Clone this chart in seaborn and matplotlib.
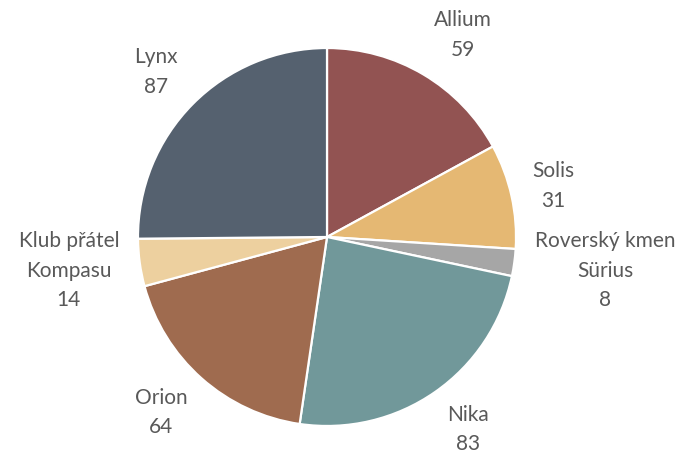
import numpy as np
import matplotlib
matplotlib.use("Agg")
import matplotlib.pyplot as plt
import seaborn as sns

labels = ["Allium", "Solis", "Roverský kmen\nSürius", "Nika", "Orion", "Klub přátel\nKompasu", "Lynx"]
values = [59, 31, 8, 83, 64, 14, 87]
colors = ["#925352", "#E5B873", "#A6A6A6", "#71989A", "#9F6B4F", "#EDD09F", "#55616F"]

sns.set_theme(style="white")
plt.rcParams['font.family'] = ['Lato', 'DejaVu Sans']

fig = plt.figure(figsize=(6.92, 4.53), dpi=100)
ax = fig.add_axes([0, 0, 1, 1])

wedges, _ = ax.pie(values, colors=colors, startangle=90, counterclock=False,
                   radius=1.0, wedgeprops=dict(edgecolor="white", linewidth=1.6))

ax.set_xlim(-1.730, 1.931)
ax.set_ylim(-1.143, 1.254)
ax.set_aspect("auto")
ax.axis("off")

# excel-like outside labels: anchor on a ring, push the box outward by half its size
ring = 1.11
texts = []
for w, lab, val in zip(wedges, labels, values):
    mid = np.deg2rad((w.theta1 + w.theta2) / 2)
    t = ax.text(ring * np.cos(mid), ring * np.sin(mid), f"{lab}\n{val}", ha="center", va="center",
                fontsize=15, color="#595959", linespacing=1.6)
    texts.append((t, mid))

fig.canvas.draw()
renderer = fig.canvas.get_renderer()
px_per_unit = ax.transData.transform((1, 0))[0] - ax.transData.transform((0, 0))[0]
for t, mid in texts:
    bb = t.get_window_extent(renderer)
    dx, dy = np.cos(mid), np.sin(mid)
    x0, y0 = t.get_position()
    t.set_position((x0 + np.sign(dx) * bb.width / 2 / px_per_unit,
                    y0 + dy * bb.height / 2 / px_per_unit))

fig.savefig("out.png", dpi=100)
